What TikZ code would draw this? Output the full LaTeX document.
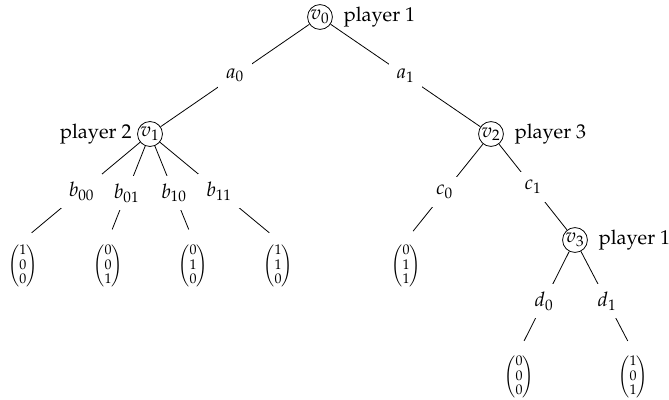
\documentclass[tikz,border=0pt]{standalone}
\usepackage{amsmath}
\usepackage[T1]{fontenc}
\usepackage{mathpazo}
\begin{document}
\begin{tikzpicture}[x=0.75pt,y=-0.75pt,
  font=\fontsize{15}{18}\selectfont,
  vert/.style={draw,circle,inner sep=0.5pt,line width=0.6pt},
  leaf/.style={anchor=north,inner sep=3pt,font=\fontsize{10.5}{11}\selectfont},
  lbl/.style={midway,fill=white,inner sep=6pt},
  edge/.style={line width=0.6pt},
  tleaf/.style={edge,shorten >=8.5pt},
  plab/.style={inner sep=2pt}]
\useasboundingbox (0,0) rectangle (669,400);
% vertices
\node[vert] (v0) at (320,17) {$v_0$};
\node[vert] (v1) at (150,134) {$v_1$};
\node[vert] (v2) at (491,134) {$v_2$};
\node[vert] (v3) at (575,240) {$v_3$};
% players
\node[plab,anchor=west,xshift=6pt] (p0) at (v0.east) {player 1};
\node[plab,anchor=east,xshift=-2pt] (p1) at (v1.west) {player 2};
\node[plab,anchor=west,xshift=6pt] (p2) at (v2.east) {player 3};
\node[plab,anchor=west,xshift=6pt] (p3) at (v3.east) {player 1};
% leaves
\node[leaf] (l1) at (23,240) {$\begin{pmatrix}1\\0\\0\end{pmatrix}$};
\node[leaf] (l2) at (108,240) {$\begin{pmatrix}0\\0\\1\end{pmatrix}$};
\node[leaf] (l3) at (193,240) {$\begin{pmatrix}0\\1\\0\end{pmatrix}$};
\node[leaf] (l4) at (278,240) {$\begin{pmatrix}1\\1\\0\end{pmatrix}$};
\node[leaf] (l5) at (406,240) {$\begin{pmatrix}0\\1\\1\end{pmatrix}$};
\node[leaf] (l6) at (519,351) {$\begin{pmatrix}0\\0\\0\end{pmatrix}$};
\node[leaf] (l7) at (633,351) {$\begin{pmatrix}1\\0\\1\end{pmatrix}$};
% edges
\draw[edge] (v0) -- (v1) node[lbl] (ea0) {$a_0$};
\draw[edge] (v0) -- (v2) node[lbl] (ea1) {$a_1$};
\draw[tleaf] (v1) -- (l1.north) node[lbl] (eb00) {$b_{00}$};
\draw[tleaf] (v1) -- (l2.north) node[lbl] (eb01) {$b_{01}$};
\draw[tleaf] (v1) -- (l3.north) node[lbl] (eb10) {$b_{10}$};
\draw[tleaf] (v1) -- (l4.north) node[lbl] (eb11) {$b_{11}$};
\draw[tleaf] (v2) -- (l5.north) node[lbl] (ec0) {$c_0$};
\draw[edge] (v2) -- (v3) node[lbl] (ec1) {$c_1$};
\draw[tleaf] (v3) -- (l6.north) node[lbl] (ed0) {$d_0$};
\draw[tleaf] (v3) -- (l7.north) node[lbl] (ed1) {$d_1$};
\end{tikzpicture}
\end{document}
